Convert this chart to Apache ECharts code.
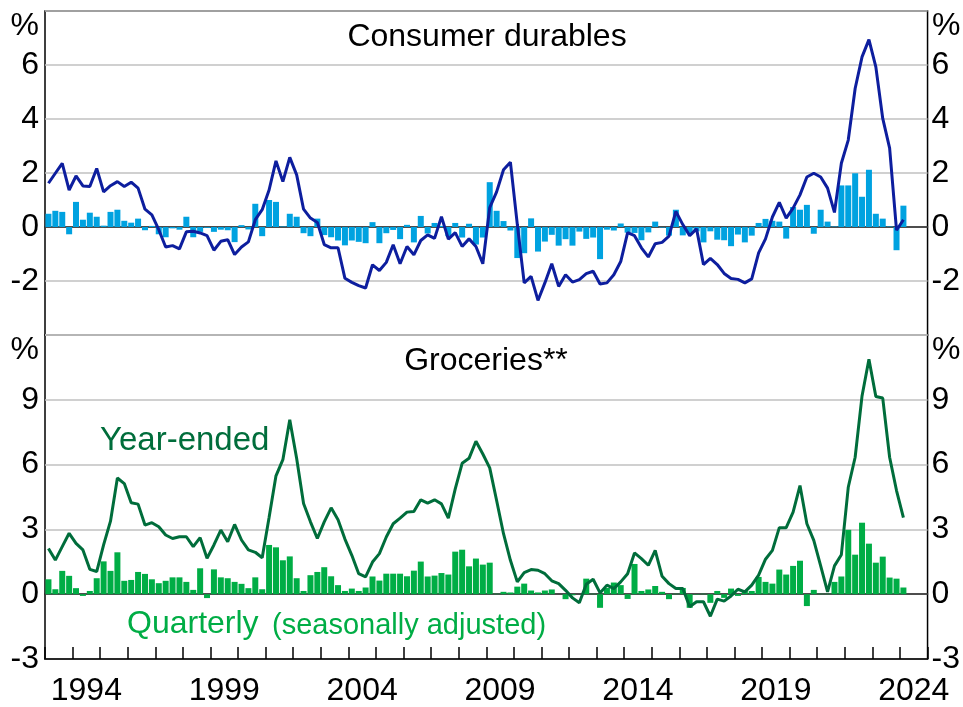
<!DOCTYPE html>
<html>
<head>
<meta charset="utf-8">
<script src="https://cdn.jsdelivr.net/npm/echarts@6/dist/echarts.min.js"></script>
<style>
html,body{margin:0;padding:0;background:#fff;}
#chart{width:963px;height:707px;}
</style>
</head>
<body>
<div id="chart"></div>
<script>
// quarterly data, first value = 1993 Q1, last = 2024 Q1
var startYear = 1993;
var years = [];
for (var y = 1993; y <= 2024; y++) years.push(String(y));
var yearLabels = ['1994', '1999', '2004', '2009', '2014', '2019', '2024'];
var durablesTicks = [-2, 0, 2, 4, 6];
var groceriesTicks = [-3, 0, 3, 6, 9];

var durablesQuarterly = [
    0.49, 0.60, 0.56, -0.27, 0.93, 0.27, 0.53, 0.38, 0.05, 0.56, 0.64, 0.23,
    0.16, 0.31, -0.12, 0.04, -0.27, -0.38, -0.05, -0.10, 0.38, -0.38, -0.18, -0.03,
    -0.18, -0.10, -0.12, -0.56, 0.07, -0.09, 0.86, -0.34, 1.00, 0.93, 0.02, 0.49,
    0.38, -0.23, -0.34, 0.31, -0.30, -0.38, -0.50, -0.68, -0.50, -0.55, -0.60, 0.18,
    -0.60, -0.23, -0.11, -0.45, 0.08, -0.57, 0.41, -0.24, 0.15, 0.04, -0.34, 0.15,
    -0.39, 0.12, -0.65, -0.39, 1.66, 0.60, 0.22, -0.13, -1.15, -0.97, 0.32, -0.91,
    -0.54, -0.29, -0.69, -0.45, -0.69, -0.17, -0.44, -0.39, -1.19, -0.10, -0.13, 0.13,
    -0.21, -0.22, -0.49, -0.20, 0.20, -0.02, -0.32, 0.64, -0.31, -0.22, -0.16, -0.57,
    -0.16, -0.47, -0.49, -0.71, -0.28, -0.57, -0.32, 0.15, 0.30, 0.23, 0.20, -0.43,
    0.74, 0.64, 0.82, -0.25, 0.64, 0.20, 0.02, 1.54, 1.54, 1.99, 1.12, 2.12,
    0.49, 0.31, 0.02, -0.86, 0.79
];
var durablesYearEnded = [
    1.62, 1.99, 2.36, 1.37, 1.89, 1.52, 1.50, 2.17, 1.30, 1.53, 1.68, 1.50,
    1.66, 1.44, 0.66, 0.45, -0.10, -0.74, -0.69, -0.81, -0.18, -0.16, -0.22, -0.32,
    -0.86, -0.53, -0.47, -1.02, -0.74, -0.55, 0.27, 0.64, 1.37, 2.45, 1.68, 2.58,
    1.93, 0.66, 0.33, 0.17, -0.65, -0.77, -0.77, -1.90, -2.05, -2.17, -2.26, -1.40,
    -1.61, -1.31, -0.66, -1.36, -0.72, -1.03, -0.50, -0.29, -0.42, 0.38, -0.45, -0.21,
    -0.72, -0.44, -0.72, -1.36, 0.72, 1.30, 2.12, 2.40, 0.10, -2.07, -1.83, -2.72,
    -2.07, -1.36, -2.20, -1.77, -2.04, -1.95, -1.73, -1.64, -2.11, -2.07, -1.77, -1.28,
    -0.21, -0.32, -0.77, -1.11, -0.62, -0.57, -0.34, 0.58, 0.09, -0.32, -0.07, -1.39,
    -1.16, -1.39, -1.72, -1.91, -1.94, -2.07, -1.92, -0.96, -0.44, 0.37, 0.91, 0.33,
    0.70, 1.19, 1.85, 1.99, 1.85, 1.44, 0.54, 2.36, 3.22, 5.13, 6.30, 6.94,
    5.93, 4.02, 2.92, -0.12, 0.27
];
var groceriesQuarterly = [
    0.69, 0.23, 1.08, 0.85, 0.28, -0.08, 0.15, 0.74, 1.52, 1.08, 1.94, 0.62,
    0.66, 1.03, 0.94, 0.69, 0.51, 0.62, 0.78, 0.78, 0.57, 0.20, 1.20, -0.18,
    1.15, 0.78, 0.74, 0.57, 0.48, 0.28, 0.78, 0.23, 2.28, 2.17, 1.57, 1.75,
    0.74, 0.15, 0.88, 1.03, 1.25, 0.83, 0.42, 0.15, 0.26, 0.15, 0.31, 0.82,
    0.63, 0.95, 0.95, 0.95, 0.83, 1.09, 1.51, 0.82, 0.86, 0.98, 0.91, 1.97,
    2.06, 1.29, 1.65, 1.37, 1.46, 0.02, 0.11, 0.08, 0.35, 0.49, 0.17, 0.08,
    0.17, 0.22, 0.00, -0.23, -0.05, 0.00, 0.72, 0.02, -0.63, 0.29, 0.54, 0.42,
    -0.22, 1.40, 0.15, 0.22, 0.38, 0.11, -0.23, 0.02, 0.29, -0.63, -0.02, 0.02,
    -0.40, 0.15, -0.17, 0.26, -0.08, 0.15, 0.15, 0.80, 0.57, 0.49, 1.14, 0.91,
    1.31, 1.55, -0.55, 0.20, 0.02, 0.02, 0.57, 0.82, 2.98, 1.83, 3.31, 2.34,
    1.46, 1.74, 0.77, 0.72, 0.31
];
var groceriesYearEnded = [
    2.12, 1.58, 2.20, 2.82, 2.35, 2.05, 1.15, 1.05, 2.28, 3.38, 5.38, 5.12,
    4.23, 4.17, 3.20, 3.31, 3.12, 2.74, 2.58, 2.66, 2.66, 2.20, 2.62, 1.66,
    2.28, 2.97, 2.43, 3.23, 2.51, 2.05, 1.94, 1.69, 3.55, 5.48, 6.23, 8.08,
    6.28, 4.20, 3.35, 2.58, 3.35, 4.00, 3.45, 2.55, 1.80, 0.95, 0.80, 1.49,
    1.88, 2.65, 3.26, 3.52, 3.80, 3.83, 4.37, 4.22, 4.37, 4.18, 3.52, 4.88,
    6.06, 6.29, 7.08, 6.49, 5.85, 4.34, 2.80, 1.57, 0.57, 1.00, 1.14, 1.11,
    0.95, 0.62, 0.49, 0.18, -0.17, -0.40, 0.46, 0.69, 0.06, 0.42, 0.26, 0.57,
    0.95, 1.91, 1.65, 1.34, 2.03, 0.83, 0.49, 0.26, 0.26, -0.58, -0.35, -0.35,
    -1.02, -0.23, -0.32, -0.08, 0.23, 0.11, 0.42, 0.88, 1.62, 2.03, 3.08, 3.08,
    3.80, 5.03, 3.26, 2.49, 1.31, 0.11, 1.31, 1.83, 4.95, 6.34, 9.18, 10.88,
    9.15, 9.08, 6.34, 4.80, 3.54
];

var FONT = '"Liberation Sans", Arial, sans-serif';
var BLUE_BAR = '#00a2e0', BLUE_LINE = '#0d1e9e';
var GREEN_BAR = '#00ad45', GREEN_LINE = '#006d3b';

// put each quarter in the middle of its quarter on a year scale
function toPoints(arr) {
    return arr.map(function (v, i) { return [startYear + (i + 0.5) / 4, v]; });
}

// hidden year scale for the data, its line is the zero line
function dataAxis(grid) {
    return {
        gridIndex: grid, type: 'value', position: 'top', min: 1993, max: 2025,
        axisLine: { show: true, onZero: true, lineStyle: { color: '#222', width: 1.5 } },
        axisTick: { show: false }, axisLabel: { show: false }, splitLine: { show: false }
    };
}

function valueAxis(grid, pos, min, max, step, ticks) {
    return {
        gridIndex: grid, type: 'value', position: pos, min: min, max: max, interval: step,
        axisLine: { show: false }, axisTick: { show: false },
        splitLine: { show: pos == 'left', lineStyle: { color: '#c0c0c0', width: 1.5 } },
        axisLabel: {
            fontSize: 32, fontFamily: FONT, color: '#000', margin: pos == 'left' ? 6 : 4,
            formatter: function (v) { return ticks.indexOf(v) >= 0 ? String(v) : ''; }
        }
    };
}

function label(text, x, y, color, size, align) {
    return {
        type: 'text', x: x, y: y, silent: true,
        style: {
            text: text, fill: color, fontSize: size, fontFamily: FONT,
            align: align || 'center', verticalAlign: 'middle'
        }
    };
}

var chart = echarts.init(document.getElementById('chart'));
chart.setOption({
    animation: false,
    grid: [
        { left: 45, right: 35, top: 11, height: 324, show: true, borderColor: '#000', borderWidth: 1.5 },
        { left: 45, right: 35, top: 335, height: 325, show: true, borderColor: '#000', borderWidth: 1.5 }
    ],
    xAxis: [
        dataAxis(0),
        dataAxis(1),
        {   // year names, centred in each year
            gridIndex: 1, type: 'category', data: years, position: 'bottom', boundaryGap: true,
            axisLine: { show: false, onZero: false }, axisTick: { show: false },
            axisLabel: {
                fontSize: 32, fontFamily: FONT, color: '#000', margin: 16,
                interval: function (idx, val) { return yearLabels.indexOf(val) >= 0; }
            },
            splitLine: { show: false }
        },
        {   // yearly ticks: sits on the zero of the helper scale below (the bottom edge), ticks point up
            gridIndex: 1, type: 'value', position: 'top', min: 1993, max: 2025, interval: 1,
            axisLine: { show: true, onZero: true, onZeroAxisIndex: 4, lineStyle: { color: '#000', width: 1.5 } },
            axisTick: { show: true, length: 12, lineStyle: { color: '#000', width: 1.5 } },
            axisLabel: { show: false }, splitLine: { show: false }
        }
    ],
    yAxis: [
        valueAxis(0, 'left', -4, 8, 2, durablesTicks),
        valueAxis(0, 'right', -4, 8, 2, durablesTicks),
        valueAxis(1, 'left', -3, 12, 3, groceriesTicks),
        valueAxis(1, 'right', -3, 12, 3, groceriesTicks),
        // helper scale, zero at the bottom edge of the lower panel
        { gridIndex: 1, type: 'value', position: 'left', min: 0, max: 1, show: false }
    ],
    series: [
        {
            name: 'Consumer durables quarterly', type: 'bar', xAxisIndex: 0, yAxisIndex: 0,
            barWidth: 6, itemStyle: { color: BLUE_BAR }, data: toPoints(durablesQuarterly)
        },
        {
            name: 'Consumer durables year-ended', type: 'line', xAxisIndex: 0, yAxisIndex: 0,
            symbol: 'none', lineStyle: { color: BLUE_LINE, width: 3 }, data: toPoints(durablesYearEnded)
        },
        {
            name: 'Groceries quarterly', type: 'bar', xAxisIndex: 1, yAxisIndex: 2,
            barWidth: 6, itemStyle: { color: GREEN_BAR }, data: toPoints(groceriesQuarterly)
        },
        {
            name: 'Groceries year-ended', type: 'line', xAxisIndex: 1, yAxisIndex: 2,
            symbol: 'none', lineStyle: { color: GREEN_LINE, width: 3 }, data: toPoints(groceriesYearEnded)
        }
    ],
    graphic: [
        label('%', 39, 26, '#000', 32, 'right'),
        label('%', 932, 26, '#000', 32, 'left'),
        label('%', 39, 350, '#000', 32, 'right'),
        label('%', 932, 350, '#000', 32, 'left'),
        label('Consumer durables', 487, 37, '#000', 32),
        label('Groceries**', 486, 361, '#000', 32),
        label('Year-ended', 100, 441, GREEN_LINE, 33, 'left'),
        label('Quarterly', 127, 624, GREEN_BAR, 32, 'left'),
        label('(seasonally adjusted)', 272, 626, GREEN_BAR, 29, 'left')
    ]
});
</script>
</body>
</html>
